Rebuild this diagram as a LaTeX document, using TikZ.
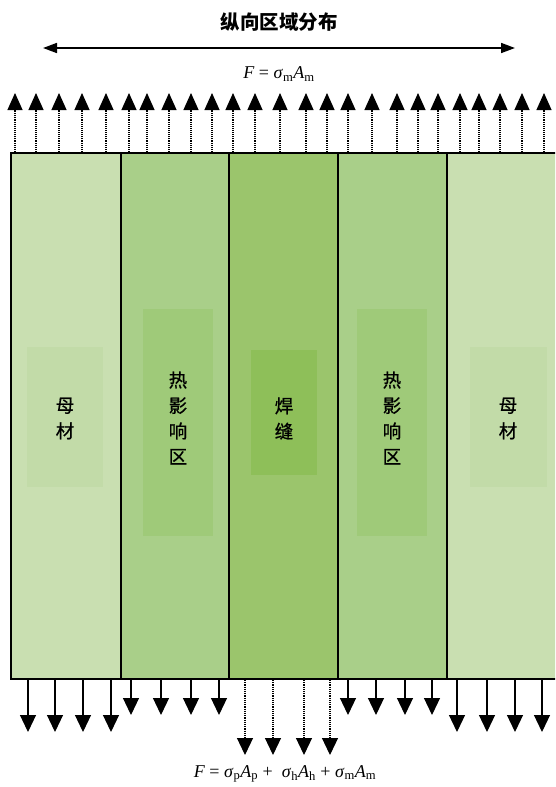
\documentclass[tikz,border=0pt]{standalone}
\usepackage{fontspec}
\setmainfont{Liberation Serif}
\newfontfamily\cjk{Noto Sans CJK SC}
\newfontfamily\cjkm[FakeBold=0.8]{Noto Sans CJK SC}
\usetikzlibrary{arrows.meta}
\definecolor{pmcol}{HTML}{C9DFB1}
\definecolor{hazcol}{HTML}{A9CF89}
\definecolor{weldcol}{HTML}{9BC56C}
\definecolor{pmin}{HTML}{C2DBA8}
\definecolor{hazin}{HTML}{9FCA79}
\definecolor{weldin}{HTML}{8EBF59}
\tikzset{
  border/.style={line width=2pt, black},
  lbl/.style={font=\cjkm\fontsize{18.5}{25.5}\selectfont, align=center, inner sep=0pt},
  uparrow/.style={line width=1.1pt, densely dotted, -{Triangle[width=15pt,length=17pt]}},
  downsolid/.style={line width=1.2pt, -{Triangle[width=16pt,length=17pt]}},
  downdotted/.style={line width=1.2pt, densely dotted, -{Triangle[width=16pt,length=17pt]}},
  mainarrow/.style={line width=1.6pt, {Triangle[width=10pt,length=14pt]}-{Triangle[width=10pt,length=14pt]}},
  formula/.style={font=\fontsize{18}{21}\selectfont, inner sep=0pt}
}
\begin{document}
\begin{tikzpicture}[x=1pt,y=-1pt]
\useasboundingbox (0,0) rectangle (555,787);
\clip (0,0) rectangle (555,787);
% strips
\fill[pmcol]   (11,153) rectangle (121,679);
\fill[hazcol]  (121,153) rectangle (229,679);
\fill[weldcol] (229,153) rectangle (338,679);
\fill[hazcol]  (338,153) rectangle (447,679);
\fill[pmcol]   (447,153) rectangle (580,679);
% inner panels
\fill[pmin]   (27,347) rectangle (103,487);
\fill[hazin]  (143,309) rectangle (213,536);
\fill[weldin] (251,350) rectangle (317,475);
\fill[hazin]  (357,309) rectangle (427,536);
\fill[pmin]   (470,347) rectangle (547,487);
% borders
\draw[border] (11,153) rectangle (580,679);
\foreach \xx in {121,229,338,447} \draw[border] (\xx,153) -- (\xx,679);
% labels
\node[lbl] (pm1) at (65,418.5) {母\\材};
\node[lbl] (haz1) at (178,418) {热\\影\\响\\区};
\node[lbl] (weld) at (284,418.5) {焊\\缝};
\node[lbl] (haz2) at (392,418) {热\\影\\响\\区};
\node[lbl] (pm2) at (508,418.5) {母\\材};
% title and main arrow
\node[font=\cjk\bfseries\fontsize{19.5}{22}\selectfont, inner sep=0pt] (title) at (279,22) {纵向区域分布};
\coordinate (ma) at (43,48);
\coordinate (mb) at (515,48);
\draw[mainarrow] (ma) -- (mb);
\node[formula] (ftop) at (279,74) {\textit{F} = \textit{σ}\textsubscript{m}\textit{A}\textsubscript{m}};
% top arrows
\foreach \xx in {15,36,59,82,106,129,147,169,191,212,233,255,280,306,327,348,372,397,418,438,460,479,500,522,544}{
  \coordinate (ts\xx) at (\xx,152);
  \coordinate (te\xx) at (\xx,93);
  \draw[uparrow] (ts\xx) -- (te\xx);
}
% bottom arrows
\foreach \xx in {28,55,83,111,457,487,515,542}{
  \coordinate (bs\xx) at (\xx,680);
  \coordinate (be\xx) at (\xx,732);
  \draw[downsolid] (bs\xx) -- (be\xx);
}
\foreach \xx in {131,161,191,219,348,376,405,432}{
  \coordinate (bs\xx) at (\xx,680);
  \coordinate (be\xx) at (\xx,715);
  \draw[downsolid] (bs\xx) -- (be\xx);
}
\foreach \xx in {245,273,304,330}{
  \coordinate (bs\xx) at (\xx,680);
  \coordinate (be\xx) at (\xx,755);
  \draw[downdotted] (bs\xx) -- (be\xx);
}
\node[formula] (fbot) at (285,774) {\textit{F} = \textit{σ}\textsubscript{p}\textit{A}\textsubscript{p} +\ \ \textit{σ}\textsubscript{h}\textit{A}\textsubscript{h} + \textit{σ}\textsubscript{m}\textit{A}\textsubscript{m}};
\end{tikzpicture}
\end{document}
